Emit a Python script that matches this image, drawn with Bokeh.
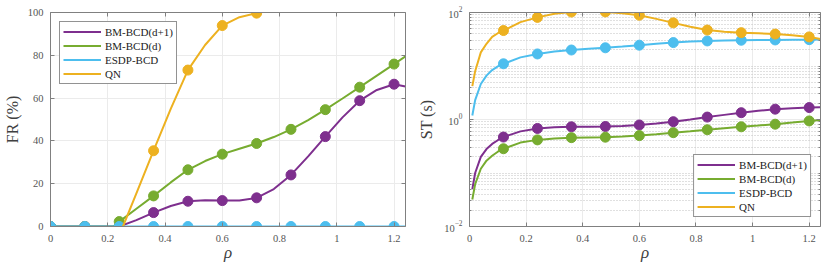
from bokeh.plotting import figure
from bokeh.layouts import row
from bokeh.models import (FixedTicker, LinearAxis, LogAxis, Legend, LegendItem, Range1d)
from bokeh.embed import file_html
from bokeh.resources import INLINE

# ---------------- data ----------------
rho = [0, 0.12, 0.24, 0.36, 0.48, 0.6, 0.72, 0.84, 0.96, 1.08, 1.2]
series_names = ["BM-BCD(d+1)", "BM-BCD(d)", "ESDP-BCD", "QN"]

# FR (%) markers
fr_bm_d1 = [0, 0, 0, 6.5, 11.8, 12.1, 13.4, 24.1, 42.0, 58.8, 66.5]
fr_bm_d = [0, 0, 2.3, 14.3, 26.5, 33.8, 38.8, 45.4, 54.6, 65.1, 75.9]
fr_esdp = [0, 0, 0, 0, 0, 0, 0, 0, 0, 0, 0]
fr_qn_rho = [0.36, 0.48, 0.6, 0.72]
fr_qn = [35.4, 73.1, 93.9, 99.7]

# FR (%) curves (read at a finer step)
fr_bm_d1_lx = [0, 0.24, 0.30, 0.36, 0.42, 0.48, 0.54, 0.60, 0.66, 0.72, 0.78, 0.84, 0.90, 0.96, 1.02, 1.08, 1.14, 1.2, 1.24]
fr_bm_d1_ly = [0, 0, 3.0, 6.5, 9.6, 11.8, 12.3, 12.1, 12.2, 13.4, 17.5, 24.1, 32.8, 42.0, 51.0, 58.8, 63.8, 66.5, 65.4]
fr_bm_d_lx = [0, 0.22, 0.24, 0.30, 0.36, 0.42, 0.48, 0.54, 0.60, 0.66, 0.72, 0.78, 0.84, 0.90, 0.96, 1.02, 1.08, 1.14, 1.2, 1.24]
fr_bm_d_ly = [0, 0, 2.3, 8.3, 14.3, 20.6, 26.5, 30.6, 33.8, 36.3, 38.8, 41.8, 45.4, 49.7, 54.6, 59.8, 65.1, 70.5, 75.9, 79.5]
fr_esdp_lx = [0, 1.24]
fr_esdp_ly = [0, 0]
fr_qn_lx = [0.253, 0.30, 0.36, 0.42, 0.48, 0.54, 0.60, 0.66, 0.72, 0.75]
fr_qn_ly = [0, 15.5, 35.4, 55.0, 73.1, 84.8, 93.9, 97.8, 99.7, 100.5]

# ST (s) markers
st_rho = [0.12, 0.24, 0.36, 0.48, 0.6, 0.72, 0.84, 0.96, 1.08, 1.2]
st_bm_d1 = [0.47, 0.68, 0.73, 0.74, 0.79, 0.91, 1.11, 1.34, 1.56, 1.67]
st_bm_d = [0.284, 0.416, 0.458, 0.467, 0.50, 0.567, 0.643, 0.73, 0.817, 0.94]
st_esdp = [11, 16.8, 19.9, 21.9, 24.5, 27.4, 29.4, 30.3, 30.7, 31.1]
st_qn = [46, 81, 102, 102.5, 89, 64, 47, 42, 39.5, 35]

# ST (s) curves (read at a finer step)
st_lx = [0.01, 0.02, 0.04, 0.06, 0.08, 0.10, 0.12, 0.18, 0.24, 0.30, 0.36, 0.42, 0.48, 0.54,
         0.60, 0.66, 0.72, 0.78, 0.84, 0.90, 0.96, 1.02, 1.08, 1.14, 1.2, 1.24]
st_bm_d1_ly = [0.05, 0.1, 0.2, 0.28, 0.35, 0.41, 0.47, 0.60, 0.68, 0.715, 0.73, 0.735, 0.74, 0.76,
               0.79, 0.84, 0.91, 1.0, 1.11, 1.22, 1.34, 1.45, 1.56, 1.63, 1.67, 1.7]
st_bm_d_ly = [0.032, 0.062, 0.12, 0.17, 0.21, 0.25, 0.284, 0.37, 0.416, 0.44, 0.458, 0.463, 0.467, 0.48,
              0.50, 0.53, 0.567, 0.60, 0.643, 0.685, 0.73, 0.77, 0.817, 0.875, 0.94, 0.98]
st_esdp_ly = [1.19, 2.3, 4.6, 6.6, 8.4, 9.8, 11, 14.5, 16.8, 18.6, 19.9, 21, 21.9, 23.1,
              24.5, 26, 27.4, 28.6, 29.4, 29.9, 30.3, 30.5, 30.7, 30.9, 31.1, 31.2]
st_qn_ly = [4.2, 8.0, 18, 26, 35, 41, 46, 66, 81, 95, 102, 105, 102.5, 97,
            89, 76, 64, 54, 47, 43.5, 42, 40.8, 39.5, 37.5, 35, 32]

x_ticks = [0, 0.2, 0.4, 0.6, 0.8, 1, 1.2]
x_tick_labels = ["0", "0.2", "0.4", "0.6", "0.8", "1", "1.2"]
fr_ticks = [0, 20, 40, 60, 80, 100]
st_ticks = [0.01, 1, 100]

# ---------------- styling ----------------
FONT = "Liberation Serif"
COLORS = ["#7E2F8E", "#77AC30", "#4DBEEE", "#EDB120"]
AXC = "#808080"
LW = 2
MS = 10
H = 264


def style_axis(ax, ticker):
    ax.ticker = ticker
    ax.major_tick_in = 4
    ax.major_tick_out = 0
    ax.minor_tick_in = 2
    ax.minor_tick_out = 0
    ax.axis_line_color = AXC
    ax.major_tick_line_color = AXC
    ax.minor_tick_line_color = AXC
    ax.major_label_text_font = FONT
    ax.major_label_text_font_size = "10.5px"
    ax.major_label_text_color = "#555555"
    ax.axis_label_text_font = FONT
    ax.axis_label_text_font_style = "normal"
    ax.axis_label_text_color = "#404040"


def add_frame_axes(p, xticker, yticker, log=False):
    top = LinearAxis()
    right = LogAxis() if log else LinearAxis()
    for ax, t in ((top, xticker), (right, yticker)):
        style_axis(ax, t)
        ax.major_label_text_font_size = "1px"
        ax.major_label_text_alpha = 0
        ax.major_label_standoff = 0
    p.add_layout(top, "above")
    p.add_layout(right, "right")


def style_x(ax):
    ax.major_label_overrides = dict(zip(x_ticks, x_tick_labels))
    ax.axis_label = "ρ"
    ax.axis_label_text_font_style = "italic"
    ax.axis_label_text_font_size = "17px"
    ax.axis_label_standoff = -2
    ax.major_label_standoff = 8


def make_legend(p, renderers, location):
    items = [LegendItem(label=n, renderers=[r]) for n, r in zip(series_names, renderers)]
    lg = Legend(items=items, location=location)
    lg.label_text_font = FONT
    lg.label_text_font_size = "11px"
    lg.label_text_color = "#222222"
    lg.glyph_width = 38
    lg.glyph_height = 13
    lg.label_height = 13
    lg.spacing = 1
    lg.padding = 3
    lg.label_standoff = 4
    lg.margin = 9
    lg.border_line_color = "#262626"
    lg.border_line_width = 1
    lg.background_fill_alpha = 1
    p.add_layout(lg)


# ---------------- left: FR ----------------
p1 = figure(width=415, height=H, x_range=Range1d(0, 1.24), y_range=Range1d(0, 100),
            output_backend="svg", toolbar_location=None,
            min_border_left=50, min_border_right=10, min_border_top=12, min_border_bottom=30)
p1.outline_line_color = None
xt = FixedTicker(ticks=x_ticks)
yt1 = FixedTicker(ticks=fr_ticks)
style_axis(p1.xaxis[0], xt)
style_axis(p1.yaxis[0], yt1)
style_x(p1.xaxis[0])
p1.yaxis[0].axis_label = "FR (%)"
p1.yaxis[0].axis_label_text_font_size = "16px"
p1.yaxis[0].axis_label_standoff = 4
p1.yaxis[0].major_label_standoff = 7
add_frame_axes(p1, xt, yt1)
p1.xgrid.ticker = xt
p1.ygrid.ticker = yt1
p1.grid.grid_line_color = "#ebebeb"

l_bm1 = p1.line(fr_bm_d1_lx, fr_bm_d1_ly, color=COLORS[0], line_width=LW)
p1.scatter(rho, fr_bm_d1, size=MS, color=COLORS[0])
l_bm = p1.line(fr_bm_d_lx, fr_bm_d_ly, color=COLORS[1], line_width=LW)
p1.scatter(rho, fr_bm_d, size=MS, color=COLORS[1])
l_es = p1.line(fr_esdp_lx, fr_esdp_ly, color=COLORS[2], line_width=LW)
p1.scatter(rho, fr_esdp, size=MS, color=COLORS[2])
l_qn = p1.line(fr_qn_lx, fr_qn_ly, color=COLORS[3], line_width=LW)
p1.scatter(fr_qn_rho, fr_qn, size=MS, color=COLORS[3])
make_legend(p1, [l_bm1, l_bm, l_es, l_qn], "top_left")

# ---------------- right: ST ----------------
p2 = figure(width=407, height=H, x_range=Range1d(0, 1.24), y_range=Range1d(0.01, 100),
            y_axis_type="log", output_backend="svg", toolbar_location=None,
            min_border_left=52, min_border_right=2, min_border_top=10, min_border_bottom=30)
p2.outline_line_color = None
minor = []
for e in (-2, -1, 0, 1):
    for k in range(1, 10):
        v = k * 10.0 ** e
        if round(v, 6) not in st_ticks:
            minor.append(v)
yt2 = FixedTicker(ticks=st_ticks, minor_ticks=minor)
style_axis(p2.xaxis[0], xt)
style_axis(p2.yaxis[0], yt2)
style_x(p2.xaxis[0])
p2.yaxis[0].axis_label = "ST (s)"
p2.yaxis[0].axis_label_text_font_size = "16px"
p2.yaxis[0].axis_label_standoff = 6
p2.yaxis[0].major_label_standoff = 7
add_frame_axes(p2, xt, yt2, log=True)
p2.xgrid.ticker = xt
p2.ygrid.ticker = yt2
p2.grid.grid_line_color = "#ebebeb"
p2.ygrid.minor_grid_line_color = "#c0c0c0"
p2.ygrid.minor_grid_line_dash = "1 2"

r_bm1 = p2.line(st_lx, st_bm_d1_ly, color=COLORS[0], line_width=LW)
p2.scatter(st_rho, st_bm_d1, size=MS, color=COLORS[0])
r_bm = p2.line(st_lx, st_bm_d_ly, color=COLORS[1], line_width=LW)
p2.scatter(st_rho, st_bm_d, size=MS, color=COLORS[1])
r_es = p2.line(st_lx, st_esdp_ly, color=COLORS[2], line_width=LW)
p2.scatter(st_rho, st_esdp, size=MS, color=COLORS[2])
r_qn = p2.line(st_lx, st_qn_ly, color=COLORS[3], line_width=LW)
p2.scatter(st_rho, st_qn, size=MS, color=COLORS[3])
make_legend(p2, [r_bm1, r_bm, r_es, r_qn], "bottom_right")

layout = row(p1, p2)
open("out.html", "w").write(file_html(layout, INLINE))
